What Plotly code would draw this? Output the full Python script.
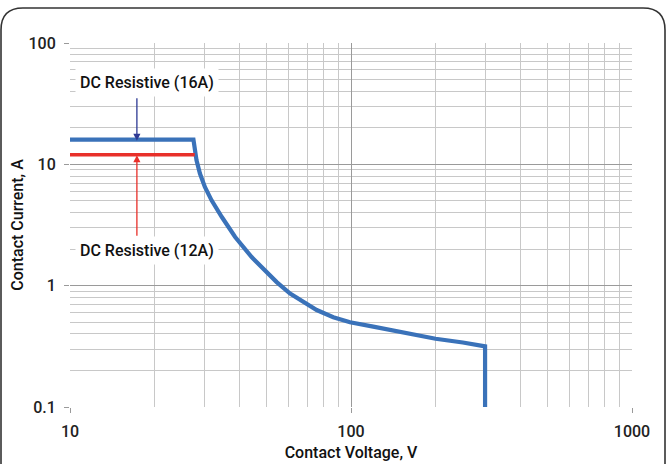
import math
import plotly.graph_objects as go

# Data
voltage_16a = [10, 27.5, 28.2, 29.0, 30.2, 31.9, 34.7, 38.7, 44.3, 48.7, 54.4, 60.7, 67.6, 75.5,
               86.5, 99.2, 120, 150, 200, 250, 300, 300]
current_16a = [16, 16, 10.8, 8.4, 6.5, 5.05, 3.68, 2.52, 1.72, 1.38, 1.07, 0.86, 0.73, 0.63,
               0.55, 0.50, 0.46, 0.415, 0.365, 0.34, 0.316, 0.1]
voltage_12a = [10, 27.8]
current_12a = [12, 12]

x_ticks = [10, 100, 1000]
x_tick_text = ["10", "100", "1000"]
y_ticks = [0.1, 1, 10, 100]
y_tick_text = ["0.1", "1", "10", "100"]
x_minor = [20, 30, 40, 50, 60, 70, 80, 90, 200, 300, 400, 500, 600, 700, 800, 900]
y_minor = [0.2, 0.3, 0.4, 0.5, 0.6, 0.7, 0.8, 0.9, 2, 3, 4, 5, 6, 7, 8, 9,
           20, 30, 40, 50, 60, 70, 80, 90]
label_16a = "DC Resistive (16A)"
label_12a = "DC Resistive (12A)"
arrow_x = 17.3
label_x = 18.8
label_16a_y = 47.4
label_12a_y = 1.95

W, H = 667, 464
L, R, T, B = 70, 35, 43, 57
pw, ph = W - L - R, H - T - B

def px(x):
    return (x - L) / pw

def py(y):
    return (H - B - y) / ph

FONT = "Roboto, Liberation Sans, Arial, sans-serif"
GRID_MAJOR = "#9a9a9a"
GRID_MINOR = "#c8c8c8"

fig = go.Figure()
fig.add_trace(go.Scatter(x=voltage_16a, y=current_16a, mode="lines",
                         line=dict(color="#3a72b9", width=4.2), hoverinfo="skip"))
fig.add_trace(go.Scatter(x=voltage_12a, y=current_12a, mode="lines",
                         line=dict(color="#e8302a", width=3.5), hoverinfo="skip"))

axis_common = dict(
    type="log", showline=False, zeroline=False, automargin=False,
    showgrid=True, gridcolor=GRID_MAJOR, gridwidth=1.3,
    ticks="outside", ticklen=5, tickcolor=GRID_MAJOR, tickwidth=1.3,
    tickfont=dict(family=FONT, size=16, color="#222", weight=500),
    title_font=dict(family=FONT, size=16, color="#111", weight=500),
)

fig.update_xaxes(range=[1, 3], tickvals=x_ticks, ticktext=x_tick_text,
                 minor=dict(tickmode="array", tickvals=x_minor, showgrid=True,
                            gridcolor=GRID_MINOR, gridwidth=1, ticks=""),
                 ticklabelstandoff=5,
                 title_text="Contact Voltage, V", title_standoff=6, **axis_common)
fig.update_yaxes(range=[-1, 2], tickvals=y_ticks, ticktext=y_tick_text,
                 minor=dict(tickmode="array", tickvals=y_minor, showgrid=True,
                            gridcolor=GRID_MINOR, gridwidth=1, ticks=""),
                 ticklabelstandoff=5,
                 title_text="Contact Current, A", title_standoff=0, **axis_common)

fig.add_annotation(x=math.log10(arrow_x), y=math.log10(current_16a[0]) - 0.01, xref="x", yref="y",
                   text="", showarrow=True, ax=0, ay=-44, arrowhead=2, arrowsize=1.1,
                   arrowwidth=1.3, arrowcolor="#2e3a94")
fig.add_annotation(x=math.log10(arrow_x), y=math.log10(current_12a[0]) - 0.004, xref="x", yref="y",
                   text="", showarrow=True, ax=0, ay=82, arrowhead=2, arrowsize=1.1,
                   arrowwidth=1.3, arrowcolor="#e8302a")

for txt, yv in [(label_16a, label_16a_y), (label_12a, label_12a_y)]:
    fig.add_annotation(x=math.log10(label_x), y=math.log10(yv), xref="x", yref="y", text=txt,
                       showarrow=False, bgcolor="white", borderpad=4,
                       font=dict(family=FONT, size=16, color="#111", weight=500))

# rounded frame (open at bottom)
r = 22
x0, x1, y0 = 1, 665, 8
path = (f"M {px(x0)},{py(H+5)} L {px(x0)},{py(y0+r)} Q {px(x0)},{py(y0)} {px(x0+r)},{py(y0)} "
        f"L {px(x1-r)},{py(y0)} Q {px(x1)},{py(y0)} {px(x1)},{py(y0+r)} L {px(x1)},{py(H+5)}")
fig.add_shape(type="path", path=path, xref="paper", yref="paper",
              line=dict(color="#333333", width=1.6), layer="above")

fig.update_layout(width=W, height=H, margin=dict(l=L, r=R, t=T, b=B),
                  paper_bgcolor="white", plot_bgcolor="white", showlegend=False)

fig.write_html("out.html", config={"displayModeBar": False},
               post_script="document.body.style.margin='0';")
